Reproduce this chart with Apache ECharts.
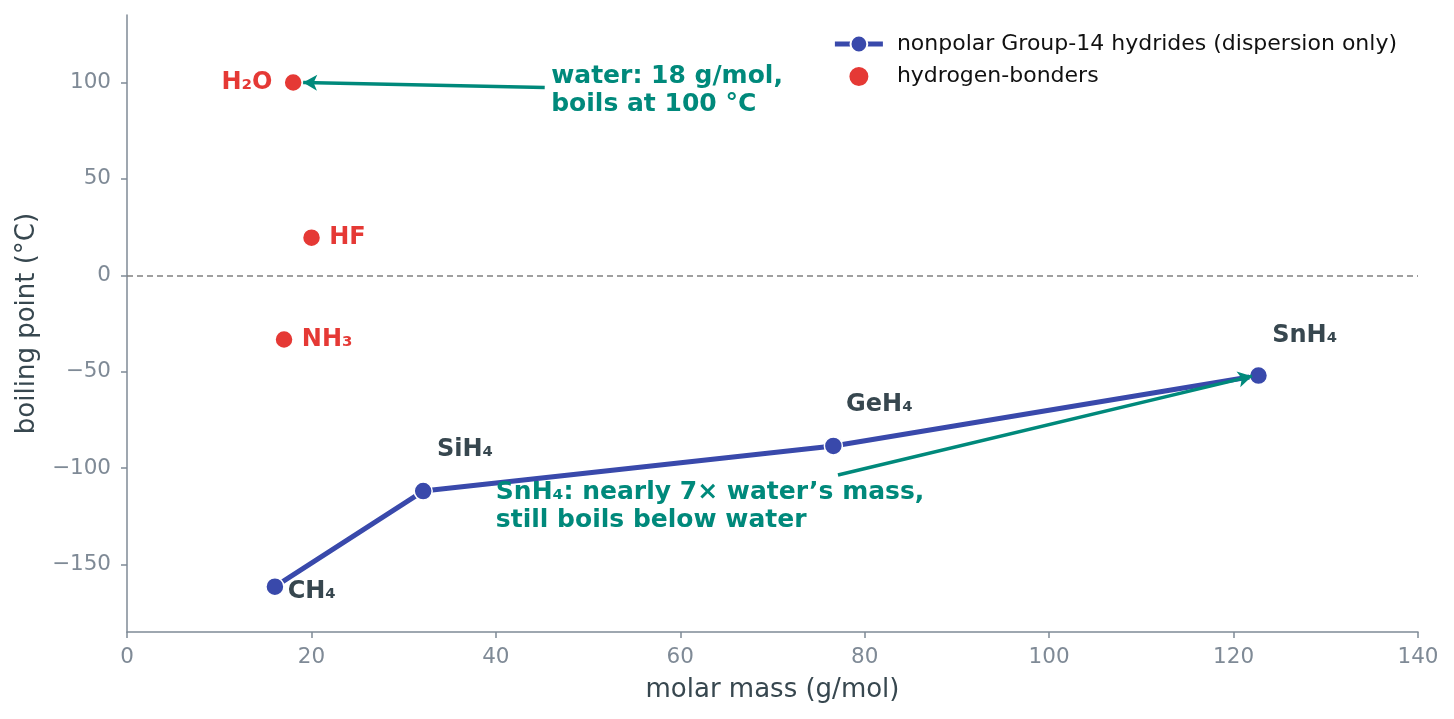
<!DOCTYPE html>
<html>
<head>
<meta charset="utf-8">
<script src="https://cdn.jsdelivr.net/npm/echarts@6/dist/echarts.min.js"></script>
<style>
  html, body { margin: 0; padding: 0; background: #fff; }
  #chart { width: 1454px; height: 719px; }
</style>
</head>
<body>
<div id="chart"></div>
<script>
// 第14族氢化物（只有色散力）
const hydrideNames = ['CH₄', 'SiH₄', 'GeH₄', 'SnH₄'];
const hydrideMass = [16.04, 32.12, 76.6, 122.7];
const hydrideBp = [-161.5, -111.9, -88.5, -52];

// 氢键分子
const hbondNames = ['H₂O', 'HF', 'NH₃'];
const hbondMass = [18.02, 20.01, 17.03];
const hbondBp = [100, 19.5, -33.3];

// 标注文字及箭头
const noteTexts = ['water: 18 g/mol,\nboils at 100 °C', 'SnH₄: nearly 7× water’s mass,\nstill boils below water'];
const noteAnchors = [[46.0, 110.3], [40.0, -105.5]];
const arrowFrom = [[45.3, 97.4], [77.1, -103.6]];
const arrowTo = [[19.1, 100], [122.0, -52.3]];

const yTicks = [-150, -100, -50, 0, 50, 100];

const FONT = 'DejaVu Sans';
const BLUE = '#3949AB';
const RED = '#E53935';
const TEAL = '#00897B';
const DARK = '#37474F';
const AXIS = '#7F8A96';

// 每个点标签的位置
const hydrideLabelPos = [
    { position: 'right', distance: 3, offset: [0, 5] },
    { position: 'right', distance: 4, offset: [0, -41] },
    { position: 'right', distance: 3, offset: [0, -41] },
    { position: 'right', distance: 4, offset: [0, -40] }
];
const hbondLabelPos = ['left', 'right', 'right'];

const chart = echarts.init(document.getElementById('chart'));

const hydrideData = hydrideMass.map((m, i) => ({
    value: [m, hydrideBp[i]],
    name: hydrideNames[i],
    label: hydrideLabelPos[i]
}));

const hbondData = hbondMass.map((m, i) => ({
    value: [m, hbondBp[i]],
    name: hbondNames[i],
    label: { position: hbondLabelPos[i], distance: i === 0 ? 11 : 8 }
}));

const noteData = noteTexts.map((t, i) => ({
    value: noteAnchors[i],
    label: { formatter: t }
}));

const arrowData = arrowFrom.map((f, i) => [
    { coord: f, symbol: 'none' },
    { coord: arrowTo[i], symbol: 'arrow' }
]);

const option = {
    animation: false,
    textStyle: { fontFamily: FONT },
    grid: { left: 127, right: 36, top: 15, bottom: 87, containLabel: false },
    legend: {
        right: 52,
        top: 28,
        orient: 'vertical',
        itemGap: 10,
        itemWidth: 48,
        itemHeight: 21,
        textStyle: { fontFamily: FONT, fontSize: 22, color: '#111', padding: [0, 0, 0, 9] },
        data: [
            { name: 'nonpolar Group-14 hydrides (dispersion only)', lineStyle: { width: 5 } },
            { name: 'hydrogen-bonders' }
        ]
    },
    xAxis: {
        type: 'value',
        min: 0,
        max: 140,
        interval: 20,
        name: 'molar mass (g/mol)',
        nameLocation: 'middle',
        nameGap: 45,
        nameTextStyle: { fontFamily: FONT, fontSize: 26, color: DARK },
        axisLine: { show: true, onZero: false, lineStyle: { color: AXIS, width: 1.5 } },
        axisTick: { show: true, length: 6, lineStyle: { color: AXIS, width: 1.5 } },
        axisLabel: { fontFamily: FONT, fontSize: 21.5, color: AXIS, margin: 14 },
        splitLine: { show: false }
    },
    yAxis: {
        type: 'value',
        min: -185,
        max: 135,
        name: 'boiling point (°C)',
        nameLocation: 'middle',
        nameGap: 87,
        nameTextStyle: { fontFamily: FONT, fontSize: 26, color: DARK },
        axisLine: { show: true, onZero: false, lineStyle: { color: AXIS, width: 1.5 } },
        axisTick: { show: true, length: 6, customValues: yTicks, lineStyle: { color: AXIS, width: 1.5 } },
        axisLabel: {
            fontFamily: FONT, fontSize: 21.5, color: AXIS, margin: 16,
            customValues: yTicks,
            formatter: v => (v < 0 ? '−' + Math.abs(v) : String(v))
        },
        splitLine: { show: false }
    },
    series: [
        {
            name: 'nonpolar Group-14 hydrides (dispersion only)',
            type: 'line',
            data: hydrideData,
            symbol: 'circle',
            symbolSize: 18,
            lineStyle: { color: BLUE, width: 5 },
            itemStyle: { color: BLUE, borderColor: '#fff', borderWidth: 1.5, opacity: 1 },
            label: {
                show: true,
                formatter: '{b}',
                fontFamily: FONT,
                fontSize: 24,
                fontWeight: 'bold',
                color: DARK
            },
            z: 3,
            markLine: {
                silent: true,
                symbol: 'none',
                label: { show: false },
                lineStyle: { color: '#808080', type: [6, 4], width: 1.5, opacity: 1 },
                data: [{ yAxis: 0 }],
                z: 1
            }
        },
        {
            name: 'hydrogen-bonders',
            type: 'scatter',
            data: hbondData,
            symbol: 'circle',
            symbolSize: 18,
            itemStyle: { color: RED, borderColor: '#fff', borderWidth: 1.5, opacity: 1 },
            label: {
                show: true,
                formatter: '{b}',
                fontFamily: FONT,
                fontSize: 24,
                fontWeight: 'bold',
                color: RED,
                opacity: 1
            },
            z: 4
        },
        {
            name: 'notes',
            type: 'scatter',
            data: noteData,
            symbolSize: 0,
            silent: true,
            itemStyle: { opacity: 1 },
            label: {
                show: true,
                position: [0, 0],
                align: 'left',
                verticalAlign: 'top',
                fontFamily: FONT,
                fontSize: 25,
                fontWeight: 'bold',
                lineHeight: 28,
                color: TEAL,
                opacity: 1
            },
            markLine: {
                silent: true,
                symbolSize: [12, 14],
                label: { show: false },
                lineStyle: { color: TEAL, width: 3.5, type: 'solid', opacity: 1 },
                data: arrowData
            },
            z: 5
        }
    ]
};

chart.setOption(option);

window.addEventListener('resize', () => chart.resize());
</script>
</body>
</html>
